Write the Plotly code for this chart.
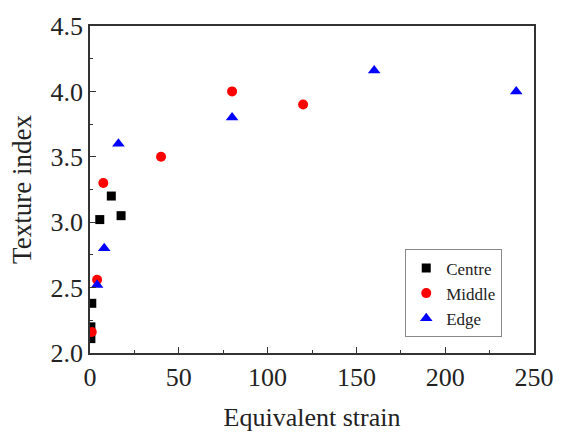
import plotly.graph_objects as go

centre_x = [0.5, 0.5, 1, 5.5, 12, 17.5]
centre_y = [2.11, 2.20, 2.38, 3.02, 3.20, 3.05]
middle_x = [1, 4, 7.5, 40, 80, 120]
middle_y = [2.16, 2.56, 3.30, 3.50, 4.00, 3.90]
edge_x = [4, 8, 16, 80, 160, 240]
edge_y = [2.52, 2.80, 3.60, 3.80, 4.16, 4.00]

FONT = "Liberation Serif"
TXT = "#222222"

fig = go.Figure()
fig.add_trace(go.Scatter(x=centre_x, y=centre_y, mode="markers", name="Centre",
                         marker=dict(symbol="square", size=9, color="black")))
fig.add_trace(go.Scatter(x=middle_x, y=middle_y, mode="markers", name="Middle",
                         marker=dict(symbol="circle", size=10, color="#ff0000")))
fig.add_trace(go.Scatter(x=edge_x, y=edge_y, mode="markers", name="Edge",
                         marker=dict(symbol="triangle-up", size=11, color="#0000ff")))

axis_common = dict(showgrid=False, zeroline=False, showline=True, linecolor="#333333",
                   linewidth=1.5, mirror=True, ticks="inside", ticklen=6, tickwidth=1,
                   tickcolor="#333333", tickfont=dict(family=FONT, size=26, color=TXT))

fig.update_xaxes(range=[0, 250], tick0=0, dtick=50,
                 minor=dict(ticks="inside", ticklen=3, dtick=25, tickcolor="#333333"),
                 title=dict(text="Equivalent strain", font=dict(family=FONT, size=26, color=TXT),
                            standoff=17),
                 **axis_common)
fig.update_yaxes(range=[2.0, 4.5], tick0=2.0, dtick=0.5, tickformat=".1f",
                 minor=dict(ticks="inside", ticklen=3, dtick=0.25, tickcolor="#333333"),
                 title=dict(text="Texture index", font=dict(family=FONT, size=27, color=TXT),
                            standoff=11),
                 **axis_common)

fig.update_layout(
    width=566, height=439,
    font=dict(family=FONT, color=TXT),
    margin=dict(l=90, r=20, t=19, b=82),
    plot_bgcolor="white", paper_bgcolor="white",
    showlegend=True,
    legend=dict(x=0.71, y=0.3166, xanchor="left", yanchor="top",
                bordercolor="#888888", borderwidth=1, bgcolor="white",
                font=dict(family=FONT, size=17, color=TXT),
                itemwidth=30),
)

fig.write_html("out.html")
